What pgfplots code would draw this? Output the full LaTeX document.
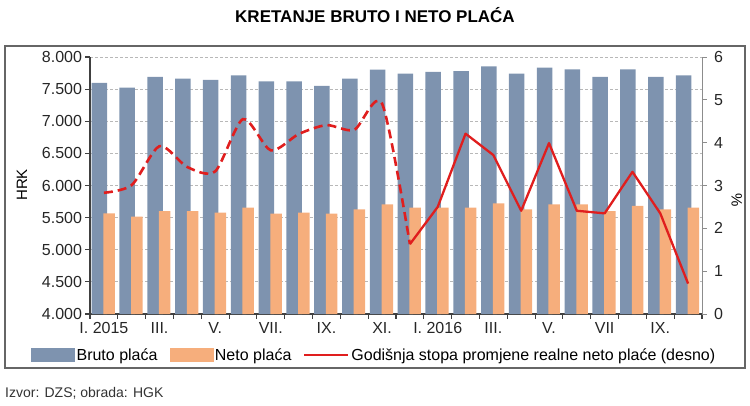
\documentclass[border=0pt]{standalone}
\usepackage{fontspec}
\setmainfont{Liberation Sans}
\usepackage{pgfplots}
\usepackage{pgfplotstable}
\pgfplotsset{compat=1.18}
\definecolor{bruto}{HTML}{7E93AF}
\definecolor{neto}{HTML}{F6AE7C}
\definecolor{linered}{HTML}{E01E1E}
\definecolor{axisdark}{HTML}{404040}

\pgfplotstableread{
x bruto neto
0 7596 5567
1 7523 5515
2 7689 5603
3 7663 5603
4 7643 5578
5 7715 5655
6 7622 5562
7 7622 5578
8 7549 5562
9 7663 5630
10 7803 5707
11 7741 5655
12 7767 5655
13 7782 5655
14 7855 5723
15 7741 5630
16 7834 5707
17 7808 5707
18 7689 5603
19 7808 5681
20 7689 5630
21 7715 5655
}\bars

\pgfplotstableread{
x p
0 2.83
1 3.01
2 3.92
3 3.43
4 3.33
5 4.55
6 3.82
7 4.20
8 4.41
9 4.30
10 4.91
11 1.63
}\pdash

\pgfplotstableread{
x p
11 1.63
12 2.50
13 4.21
14 3.71
15 2.41
16 3.99
17 2.41
18 2.35
19 3.32
20 2.35
21 0.71
}\psolid

\begin{document}
\begin{tikzpicture}
\useasboundingbox (0pt,0pt) rectangle (750pt,405pt);
\draw[draw=axisdark!80, line width=1.6pt] (5pt,37pt) rectangle (745pt,359pt);
\node at (375pt,390pt) {\fontsize{17}{20}\selectfont\bfseries KRETANJE BRUTO I NETO PLAĆA};
\node[anchor=west, inner sep=0pt, text=black!80] at (5pt,12pt) {\fontsize{14}{16}\selectfont Izvor: DZS; obrada: HGK};

\begin{axis}[
  at={(90pt,91pt)}, anchor=south west, scale only axis,
  width=612pt, height=257pt,
  xmin=-0.5, xmax=21.5, ymin=4000, ymax=8000,
  axis x line*=bottom, axis y line*=left,
  axis line style={-, draw=axisdark, line width=1.4pt},
  ytick={4000,4500,...,8000},
  ymajorgrids,
  grid style={dash pattern=on 3pt off 2pt, black!28, line width=0.8pt},
  xtick={-0.5,0.5,...,21.5}, xticklabels={},
  extra x ticks={0,2,...,20},
  extra x tick labels={I. 2015,III.,V.,VII.,IX.,XI.,I. 2016,III.,V.,VII,IX.},
  extra x tick style={major tick length=0pt, grid=none, tick label style={yshift=-5pt}},
  tick align=outside, major tick length=4.5pt,
  tick style={draw=axisdark, line width=1.1pt},
  tick label style={font=\fontsize{16}{18}\selectfont, text=black!85},
  /pgf/number format/assume math mode=true,
  /pgf/number format/1000 sep={.},
  ylabel={HRK},
  ylabel style={at={(axis description cs:-0.111,0.502)}, anchor=center, font=\fontsize{15}{17}\selectfont},
  clip=true,
]
\addplot[ybar, bar width=15.5pt, bar shift=-4.5pt, fill=bruto, draw=none] table[x=x, y=bruto] {\bars};
\addplot[ybar, bar width=11.5pt, bar shift=5.2pt, fill=neto, draw=none] table[x=x, y=neto] {\bars};
\end{axis}

\begin{axis}[
  at={(90pt,91pt)}, anchor=south west, scale only axis,
  width=612pt, height=257pt,
  xmin=-0.5, xmax=21.5, ymin=0, ymax=6,
  axis y line*=right, axis x line=none,
  axis line style={-, draw=black!45, line width=1pt},
  ytick={0,1,...,6},
  tick align=outside, major tick length=4.5pt,
  tick style={draw=black!45, line width=1pt},
  tick label style={font=\fontsize{16}{18}\selectfont, text=black!85},
  yticklabel style={xshift=4pt},
  /pgf/number format/assume math mode=true,
  ylabel={\%},
  ylabel style={at={(axis description cs:1.057,0.444)}, anchor=center, rotate=180, font=\fontsize{15}{17}\selectfont},
  legend style={at={(-0.0964,-0.1595)}, anchor=west, draw=none, fill=none,
    font=\fontsize{16}{18}\selectfont, inner sep=0pt,
    /tikz/every even column/.append style={column sep=10pt}},
  legend columns=3,
  legend cell align=left,
]
\addlegendimage{legend image code/.code={\fill[bruto] (0pt,-6.5pt) rectangle (43pt,6.5pt);}}
\addlegendentry{Bruto plaća}
\addlegendimage{legend image code/.code={\fill[neto] (0pt,-6.5pt) rectangle (43pt,6.5pt);}}
\addlegendentry{Neto plaća}
\addplot[linered, line width=2.6pt, dash pattern=on 9pt off 5pt, smooth, tension=0.45, forget plot] table[x=x, y=p] {\pdash};
\addplot[linered, line width=2.3pt, line join=round,
  legend image code/.code={\draw[linered, line width=2pt] (0pt,0pt) -- (44pt,0pt);}] table[x=x, y=p] {\psolid};
\addlegendentry{Godišnja stopa promjene realne neto plaće (desno)}
\end{axis}
\end{tikzpicture}
\end{document}
